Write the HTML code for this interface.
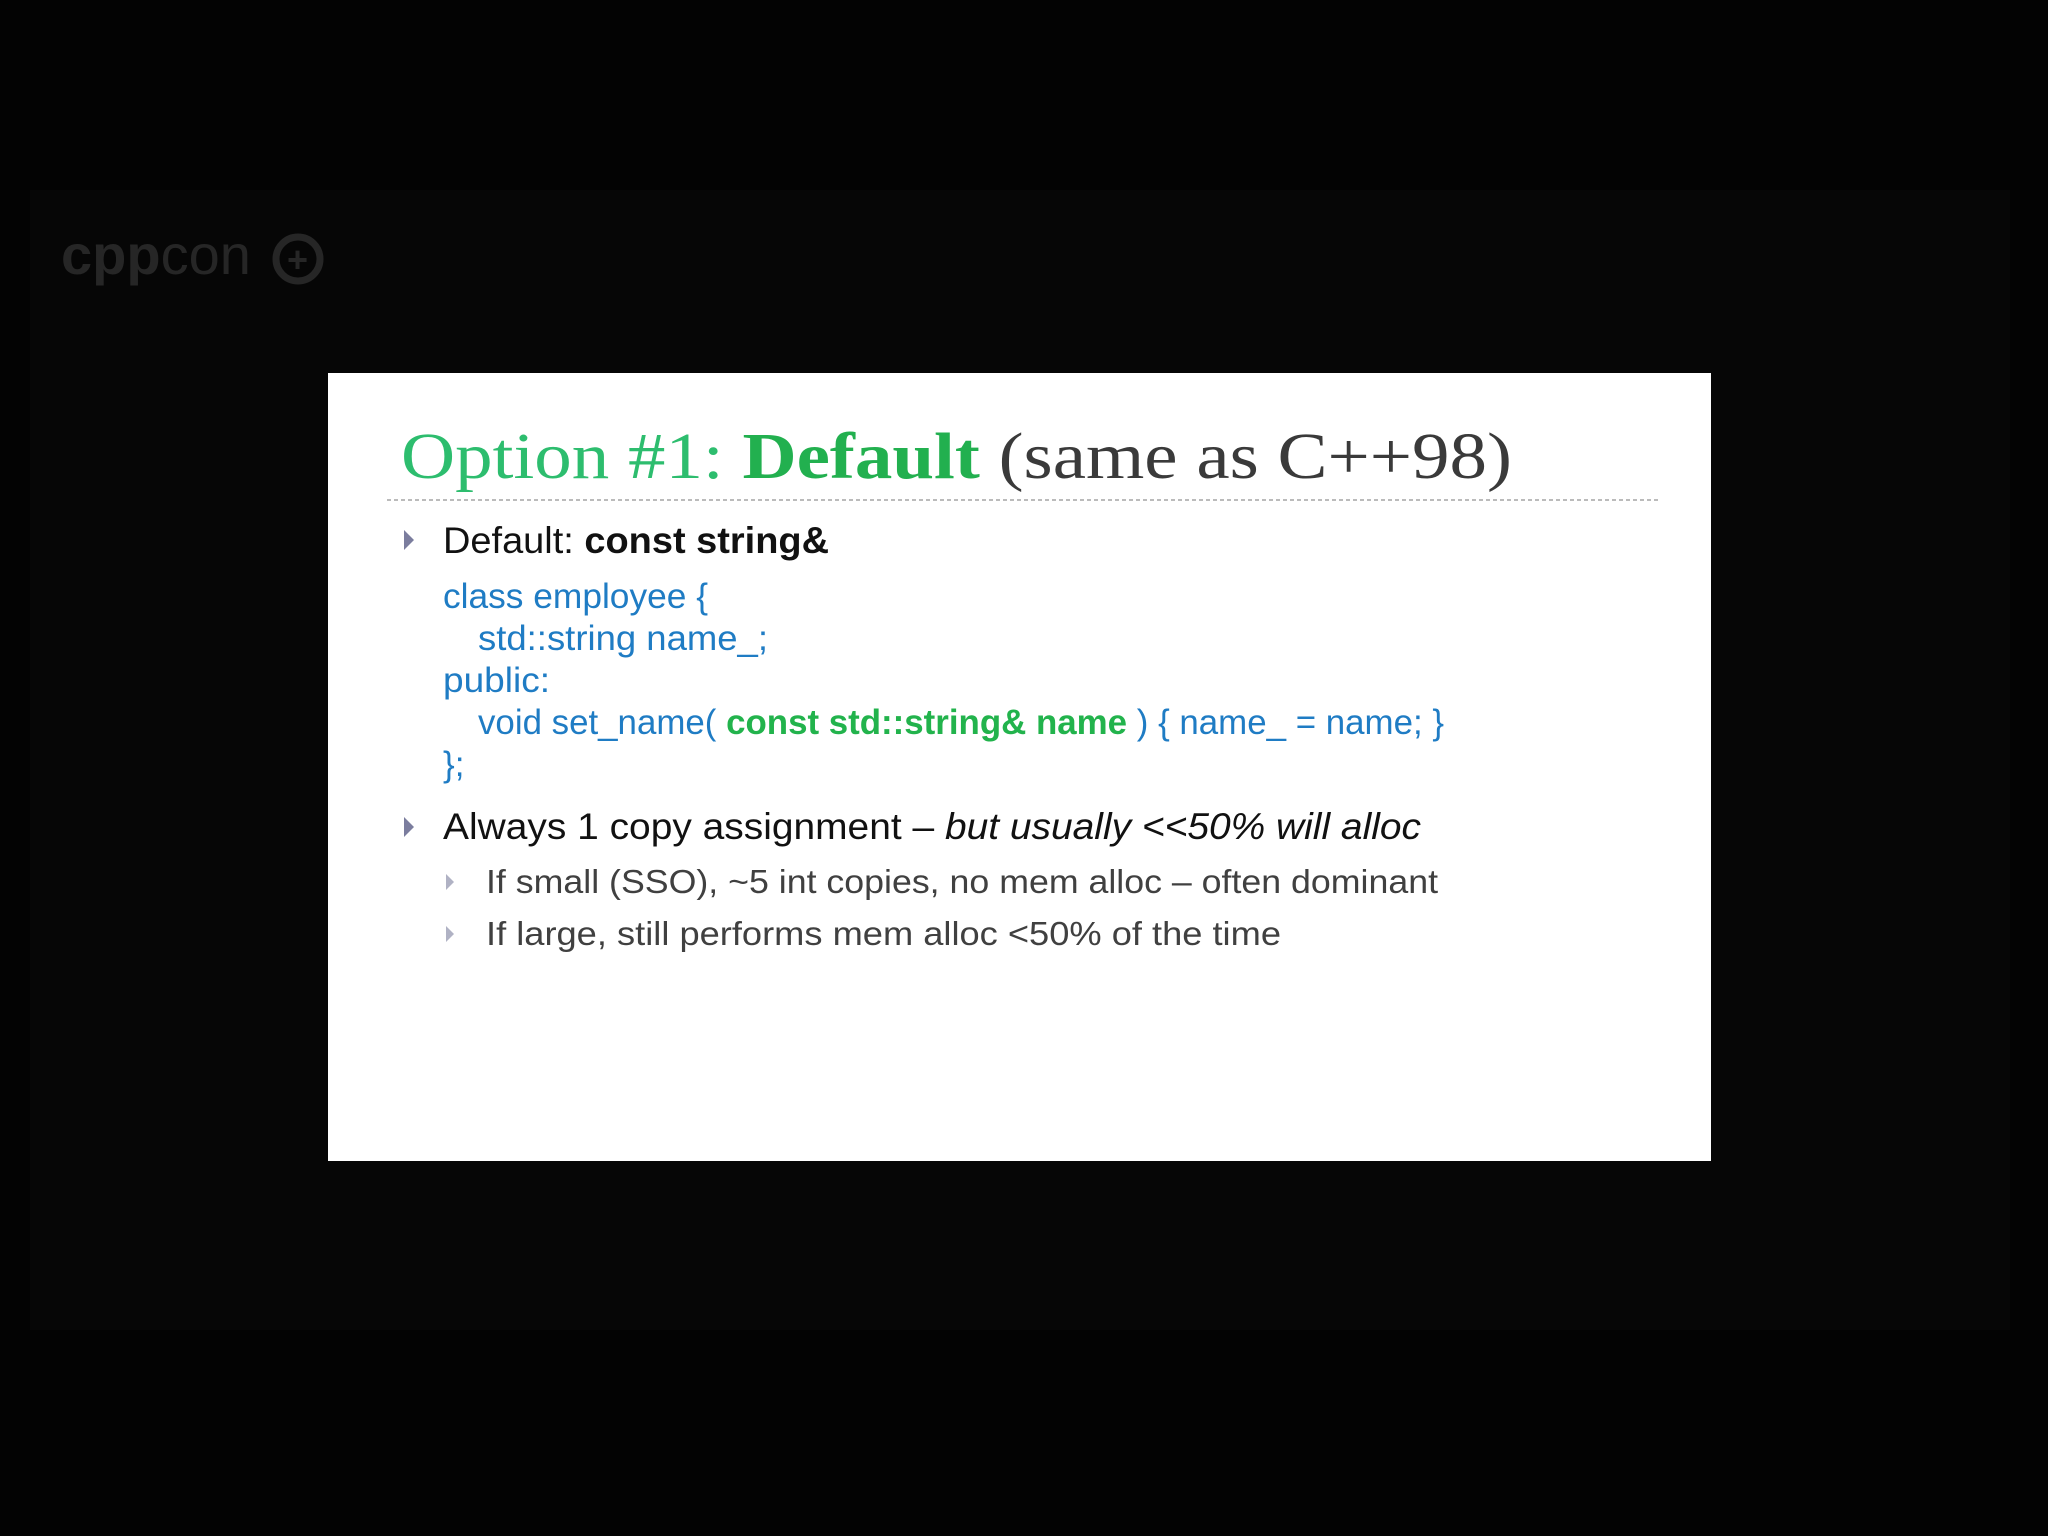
<!DOCTYPE html>
<html><head><meta charset="utf-8"><style>
html,body{margin:0;padding:0;background:#030303;}
svg{display:block}
</style></head><body>
<svg width="2048" height="1536" viewBox="0 0 2048 1536" xmlns="http://www.w3.org/2000/svg">
<rect width="2048" height="1536" fill="#030303"/>
<rect x="30" y="190" width="1980" height="1140" fill="#060606"/>
<text x="61" y="274" font-family="Liberation Sans, sans-serif" font-size="56" fill="#262626" font-weight="bold">cpp<tspan font-weight="normal">con</tspan></text>
<circle cx="298" cy="259" r="22" fill="none" stroke="#262626" stroke-width="7"/>
<text x="287" y="272" font-family="Liberation Sans, sans-serif" font-size="36" font-weight="bold" fill="#262626">+</text>
<rect x="328" y="373" width="1383" height="788" fill="#ffffff"/>
<text x="401" y="478" font-family="Liberation Serif, serif" font-size="66" fill="#2dbd6e" textLength="1111" lengthAdjust="spacingAndGlyphs">Option #1: <tspan font-weight="bold" fill="#22b04f">Default</tspan> <tspan fill="#3a3a3a">(same as C++98)</tspan></text>
<line x1="387" y1="500" x2="1659" y2="500" stroke="#bbbbbb" stroke-width="2" stroke-dasharray="4,3"/>
<g fill="#7b7d9e">
<polygon points="404,530 404,550 414,540"/>
<polygon points="404,817 404,837 414,827"/>
<polygon points="446,874 446,890 454,882" fill="#b0b2c4"/>
<polygon points="446,926 446,942 454,934" fill="#b0b2c4"/>
</g>
<g font-family="Liberation Sans, sans-serif">
<text x="443" y="553" font-size="37" fill="#111" textLength="386" lengthAdjust="spacingAndGlyphs">Default: <tspan font-weight="bold">const string&amp;</tspan></text>
<g font-size="35" fill="#1f7cc4">
<text x="443" y="608" textLength="265" lengthAdjust="spacingAndGlyphs">class employee {</text>
<text x="478" y="650" textLength="290" lengthAdjust="spacingAndGlyphs">std::string name_;</text>
<text x="443" y="692" textLength="107" lengthAdjust="spacingAndGlyphs">public:</text>
<text x="478" y="734" textLength="966" lengthAdjust="spacingAndGlyphs">void set_name( <tspan fill="#22b34c" font-weight="bold">const std::string&amp; name</tspan> ) { name_ = name; }</text>
<text x="443" y="776">};</text>
</g>
<text x="443" y="839" font-size="37" fill="#111" textLength="978" lengthAdjust="spacingAndGlyphs">Always 1 copy assignment – <tspan font-style="italic">but usually &lt;&lt;50% will alloc</tspan></text>
<text x="486" y="893" font-size="33" fill="#404040" textLength="952" lengthAdjust="spacingAndGlyphs">If small (SSO), ~5 int copies, no mem alloc – often dominant</text>
<text x="486" y="945" font-size="33" fill="#404040" textLength="795" lengthAdjust="spacingAndGlyphs">If large, still performs mem alloc &lt;50% of the time</text>
</g>
</svg>
</body></html>
